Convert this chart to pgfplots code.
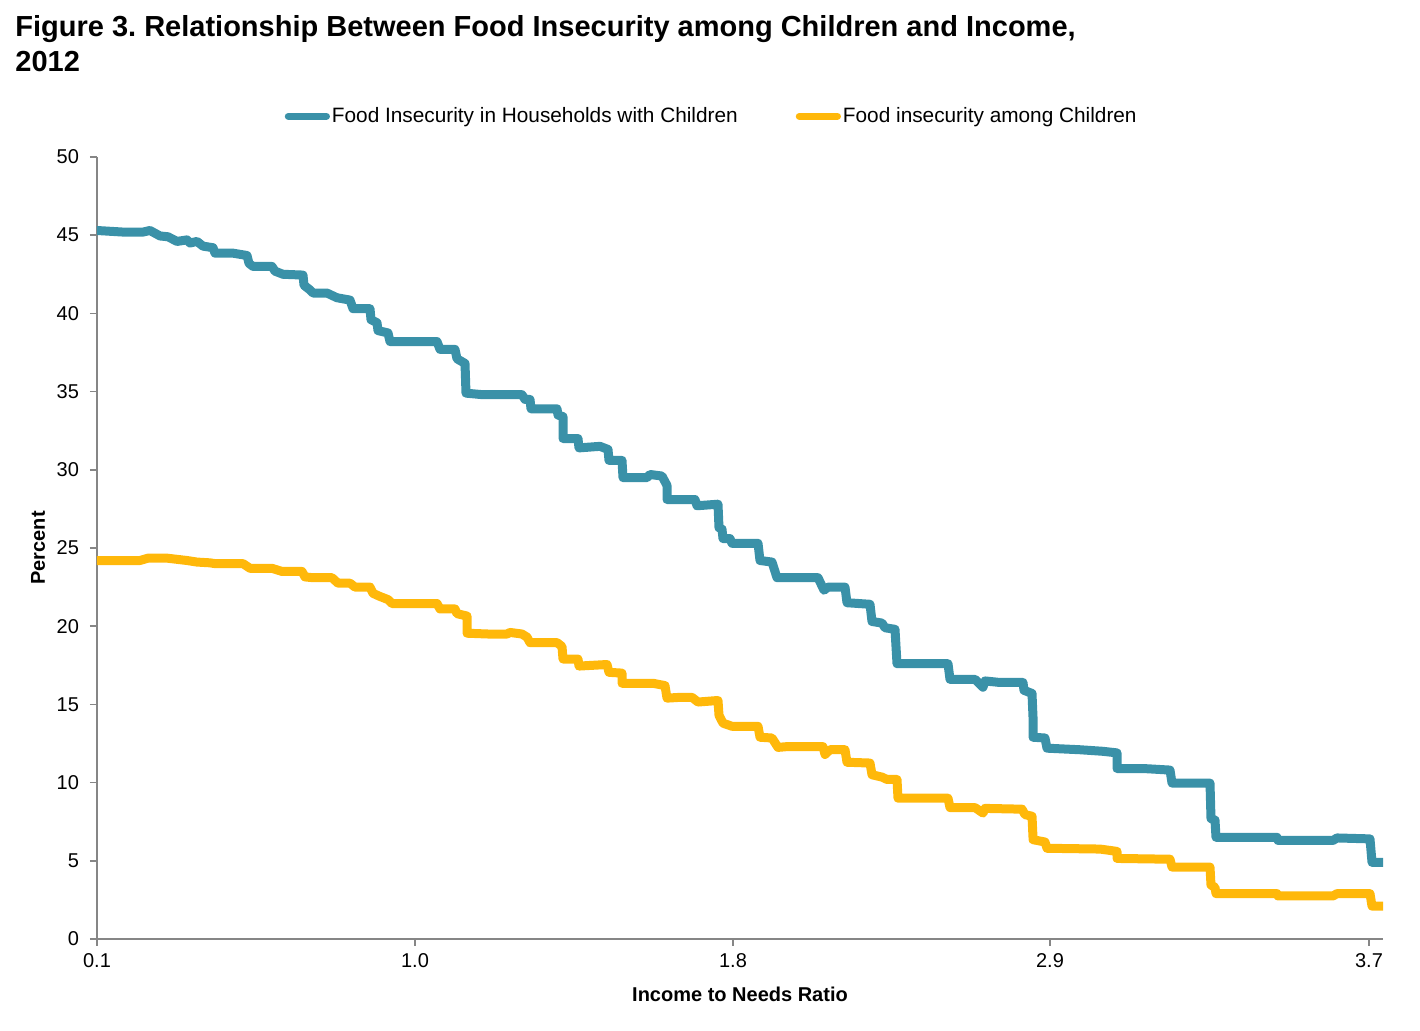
\documentclass[border=0pt]{standalone}
\usepackage{pgfplots}
\pgfplotsset{compat=1.18}
\usepackage{fontspec}
\setmainfont{Liberation Sans}
\frenchspacing
\definecolor{teal1}{RGB}{58,145,168}
\definecolor{gold1}{RGB}{255,184,10}
\definecolor{axgray}{RGB}{134,134,134}
\begin{document}
\begin{tikzpicture}
\begin{axis}[name=ax, at={(0,0)}, anchor=south west,
  scale only axis, width=643pt, height=391pt,
  xmin=97, xmax=1383, ymin=0, ymax=50,
  axis lines*=left,
  axis line style={axgray, line width=0.8pt},
  xtick={97,415,733,1050,1369},
  xticklabels={0.1,1.0,1.8,2.9,3.7},
  ytick={0,5,...,50},
  tick style={axgray, line width=0.8pt},
  tick align=outside, major tick length=3.5pt,
  tick label style={font=\fontsize{10}{11}\selectfont, black},
  yticklabel style={xshift=-2pt},
  /pgf/number format/assume math mode=true,
  xlabel={\textbf{Income to Needs Ratio}},
  ylabel={\textbf{Percent}},
  label style={font=\fontsize{9.5}{10}\selectfont},
  every axis x label/.style={at={(axis description cs:0.5,-0.0703)}, anchor=center},
  every axis y label/.style={at={(axis description cs:-0.0459,0.5)}, anchor=center, rotate=90},
  legend style={at={(axis description cs:0.478,1.052)}, anchor=center, draw=none,
    font=\fontsize{10.4}{12}\selectfont,
    /tikz/every even column/.append style={column sep=28pt},
    nodes={inner sep=1pt}},
  legend columns=2,
  legend image code/.code={\draw[#1, line width=3.6pt, line cap=round] (0pt,0pt) -- (19pt,0pt);},
]
\addplot[teal1, line width=4.5pt, line join=round, line cap=round] table {
x y
97 45.3
123 45.2
143 45.2
150 45.3
160 44.95
168 44.9
177 44.6
187 44.7
190 44.5
197 44.6
203 44.3
213 44.2
215 43.85
233 43.85
247 43.7
249 43.2
253 43.0
272 43.0
275 42.7
283 42.5
303 42.45
304 41.8
310 41.5
313 41.3
327 41.3
337 41.0
350 40.85
353 40.3
370 40.3
371 39.6
377 39.4
378 38.9
388 38.75
390 38.2
437 38.2
440 37.7
455 37.7
457 37.1
465 36.8
466 34.9
483 34.8
522 34.8
525 34.5
530 34.5
531 33.9
557 33.9
558 33.5
563 33.4
563 32.0
578 32.0
579 31.4
600 31.5
608 31.3
609 30.6
622 30.6
623 29.5
647 29.5
650 29.7
662 29.6
667 29.0
667 28.1
695 28.1
697 27.7
718 27.8
719 26.3
722 26.2
723 25.6
730 25.6
732 25.3
758 25.3
760 24.2
772 24.1
777 23.1
818 23.1
824 22.3
828 22.5
845 22.5
847 21.5
870 21.4
872 20.3
882 20.2
885 19.9
895 19.8
897 17.6
948 17.6
950 16.6
975 16.6
983 16.1
985 16.5
1000 16.4
1023 16.4
1024 15.9
1032 15.7
1033 14.2
1033 12.9
1045 12.85
1047 12.2
1080 12.1
1103 12.0
1117 11.9
1117 10.9
1143 10.9
1170 10.8
1172 9.97
1210 9.97
1211 7.7
1215 7.6
1216 6.5
1253 6.5
1277 6.5
1278 6.3
1333 6.3
1337 6.46
1370 6.4
1372 4.9
1383 4.9
};
\addlegendentry{Food Insecurity in Households with Children}
\addplot[gold1, line width=4.5pt, line join=round, line cap=round] table {
x y
97 24.2
140 24.2
148 24.35
167 24.35
187 24.2
197 24.1
210 24.05
215 24.0
243 24.0
250 23.7
272 23.7
282 23.5
302 23.5
305 23.15
313 23.1
332 23.1
338 22.75
350 22.75
355 22.5
370 22.5
373 22.1
380 21.9
388 21.7
392 21.45
437 21.45
440 21.1
455 21.1
457 20.8
467 20.65
467 19.55
488 19.5
507 19.5
510 19.6
522 19.5
527 19.3
530 18.95
557 18.95
562 18.7
563 17.9
578 17.9
579 17.45
607 17.55
609 17.05
622 17.0
622 16.35
653 16.35
665 16.2
667 15.4
680 15.45
692 15.45
698 15.15
718 15.25
719 14.3
723 13.8
732 13.6
758 13.6
760 12.9
772 12.85
778 12.25
787 12.3
823 12.3
825 11.8
830 12.1
845 12.1
847 11.3
870 11.25
872 10.5
882 10.35
887 10.2
897 10.2
898 9.0
948 9.0
950 8.4
975 8.4
983 8.05
985 8.35
1022 8.3
1025 7.95
1032 7.85
1033 6.5
1033 6.35
1045 6.2
1047 5.8
1100 5.75
1117 5.6
1117 5.15
1170 5.1
1172 4.6
1210 4.6
1211 3.45
1215 3.3
1216 2.9
1277 2.9
1278 2.75
1333 2.75
1337 2.9
1370 2.9
1372 2.1
1383 2.1
};
\addlegendentry{Food insecurity among Children}
\end{axis}
\node[anchor=base west, inner sep=0pt, font=\fontsize{14.5}{16}\selectfont\bfseries] at ([shift={(-41pt,451pt)}]ax.south west) {Figure 3. Relationship Between Food Insecurity among Children and Income,};
\node[anchor=base west, inner sep=0pt, font=\fontsize{14.5}{16}\selectfont\bfseries] at ([shift={(-41pt,433.5pt)}]ax.south west) {2012};
\path ([shift={(-48.5pt,-46pt)}]ax.south west) rectangle ([shift={(661.5pt,469.5pt)}]ax.south west);
\end{tikzpicture}
\end{document}
